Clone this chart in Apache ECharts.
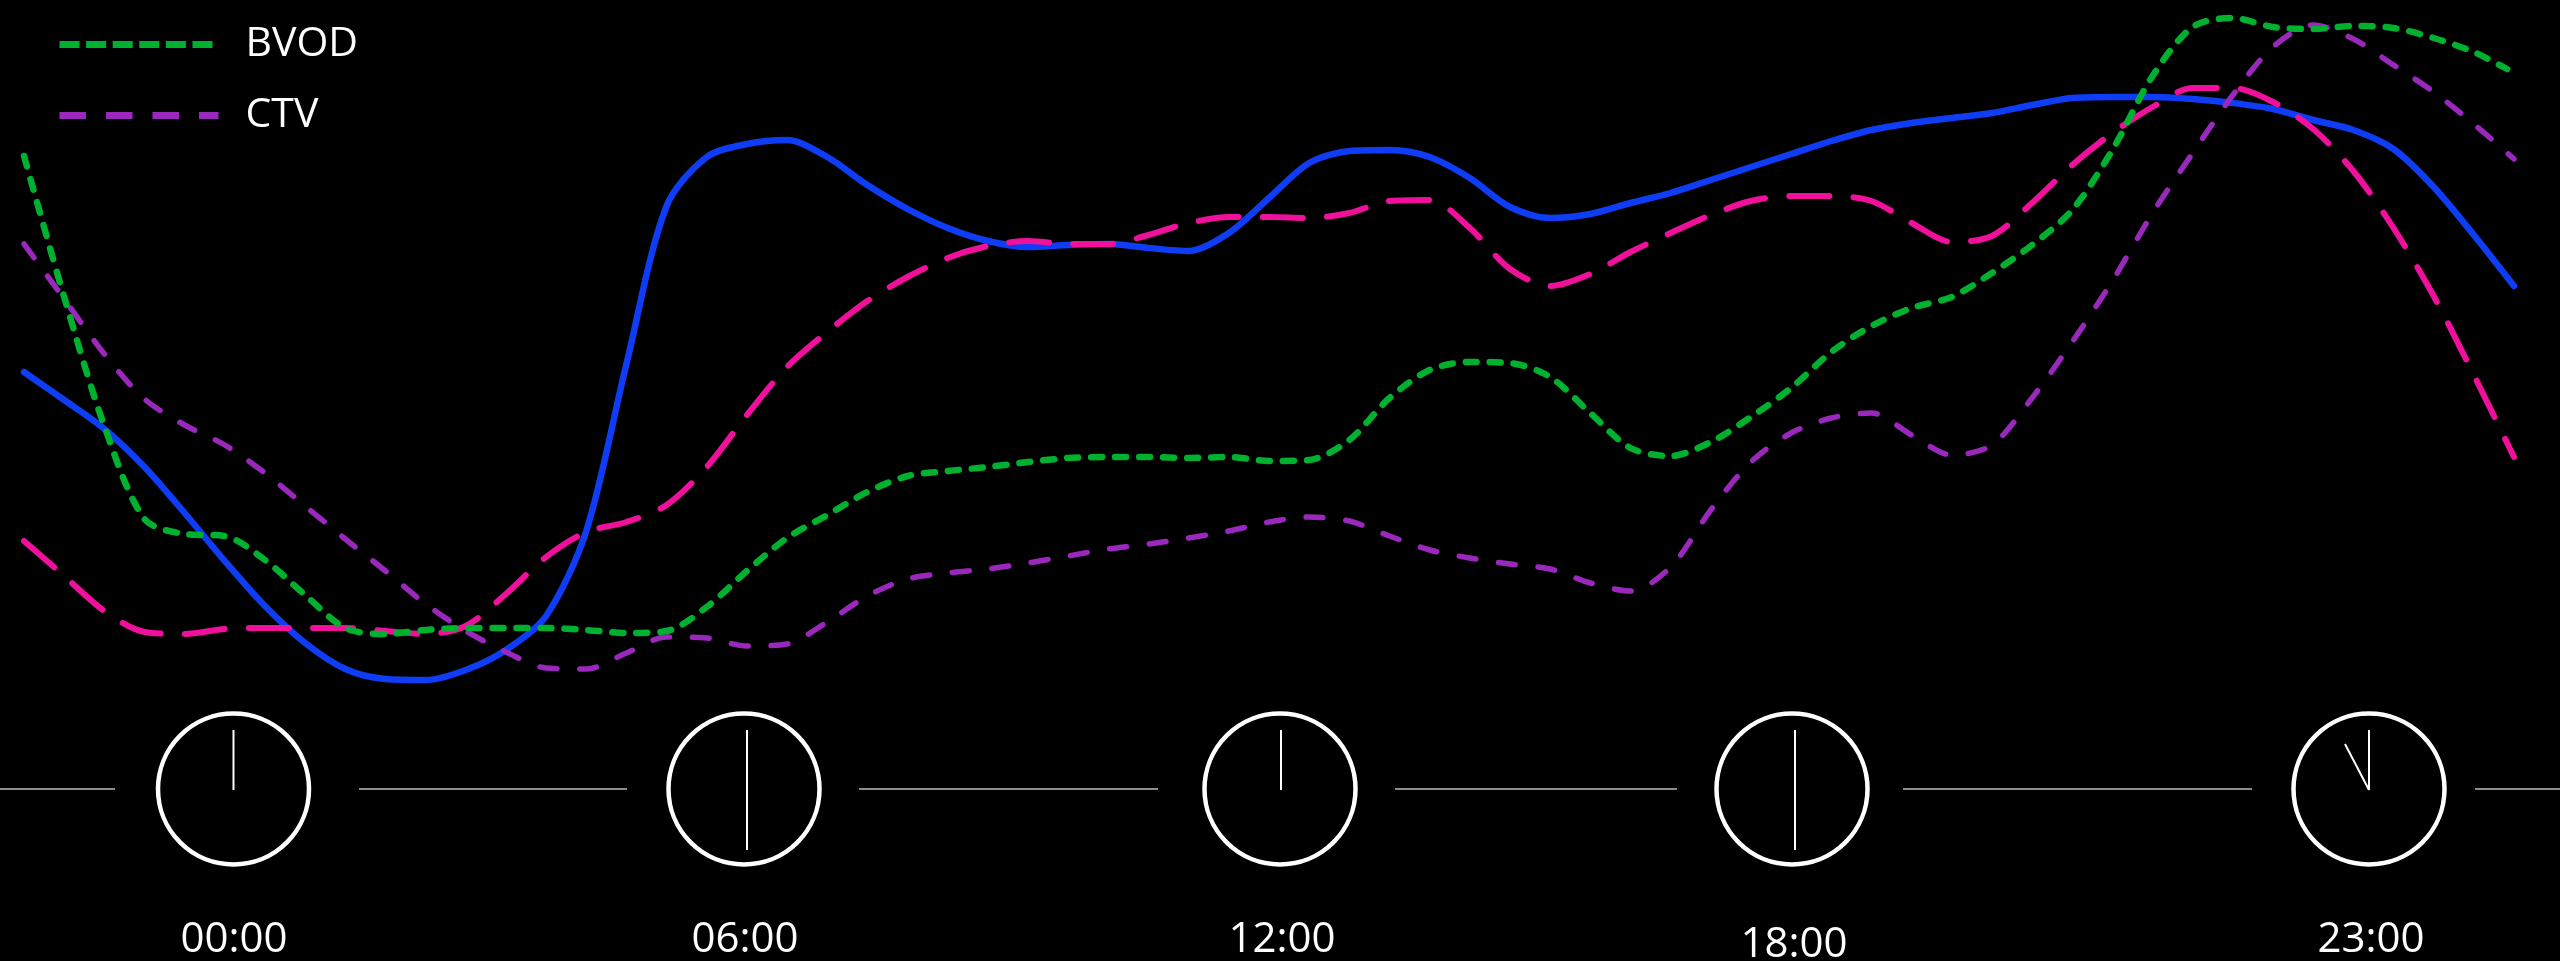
<!DOCTYPE html>
<html>
<head>
<meta charset="utf-8">
<style>html,body{margin:0;height:100%;background:#000}#chart{width:2560px;height:961px}</style>
<script src="https://cdn.jsdelivr.net/npm/echarts@6/dist/echarts.min.js"></script>
</head>
<body>
<div id="chart"></div>
<script>
// Audience index over the day, one reading per sample step.
const blueLine = [328,300,271,233,187,139,94,57,31,21,20,30,50,84,169,336,494,543,556,560,543,515,491,472,459,453,455,456,452,449,467,502,537,549,550,543,522,493,482,486,497,507,520,533,546,559,570,577,582,587,595,602,603,603,601,597,591,580,570,551,513,465,414];
const ctv = [456,401,346,301,275,255,227,194,161,129,96,69,48,32,31,47,63,62,54,56,78,104,121,127,131,137,144,151,156,162,169,178,183,179,164,150,142,136,131,117,109,133,190,238,267,282,287,265,245,255,302,358,419,487,547,605,653,675,661,635,608,576,541];
const pinkLine = [159,124,89,68,66,71,72,72,72,69,66,74,106,143,168,178,195,233,285,333,368,399,423,442,454,459,456,456,465,477,483,483,482,487,499,500,472,431,414,426,448,467,485,499,504,504,499,477,458,464,497,535,567,593,612,612,598,571,529,472,404,325,243];
const bvod = [544,403,274,181,166,164,140,105,72,66,70,72,72,72,70,67,69,93,129,162,185,208,224,229,233,238,242,243,243,242,243,239,240,260,302,330,338,337,323,287,252,244,258,283,312,348,374,392,403,427,455,490,550,624,673,682,673,671,674,672,662,648,631];

// The BVOD trace stops slightly short of the others.
const bvodLastSample = 61.83;

const timeLabels = ['00:00', '06:00', '12:00', '18:00', '23:00'];

// Clock row layout
const clockY = 789;
const clockRadius = 75.5;
const clockX = [233.5, 744, 1280, 1792, 2369];
const handX = [233.5, 747, 1281, 1795, 2369];
const handEndY = [790, 850, 790, 850, 790];
const labelX = [234, 745, 1282, 1794, 2371];
const labelY = [940, 940, 940, 945, 940];
const ruleSpans = [[0, 115], [359, 627], [859, 1158], [1395, 1677], [1903, 2252], [2475, 2560]];

const WHITE = '#ffffff';
const graphics = [];
ruleSpans.forEach(([a, b]) => graphics.push({
  type: 'line', shape: {x1: a, y1: clockY, x2: b, y2: clockY},
  style: {stroke: '#8c8c8c', lineWidth: 2}
}));
clockX.forEach((cx, i) => {
  graphics.push({type: 'circle', shape: {cx, cy: clockY, r: clockRadius}, style: {fill: 'none', stroke: WHITE, lineWidth: 4.5}});
  graphics.push({type: 'line', shape: {x1: handX[i], y1: 730, x2: handX[i], y2: handEndY[i]}, style: {stroke: WHITE, lineWidth: 2}});
  graphics.push({type: 'text', x: labelX[i], y: labelY[i], style: {
    text: timeLabels[i], fill: WHITE, font: '42px "Open Sans"', textAlign: 'center', textVerticalAlign: 'middle'
  }});
});
// Hour hand of the last clock
graphics.push({type: 'line', shape: {x1: 2369, y1: 790, x2: 2345, y2: 744}, style: {stroke: WHITE, lineWidth: 2}});

function trace(name, values, color, width, dash, lastSample) {
  return {
    name, type: 'line', smooth: 0.3, symbol: 'none', silent: true,
    data: values.map((v, i) => [i === values.length - 1 && lastSample ? lastSample : i, v]),
    lineStyle: {color, width, type: dash, cap: 'round', join: 'round'},
    itemStyle: {color}
  };
}

const chart = echarts.init(document.getElementById('chart'));
chart.setOption({
  backgroundColor: '#000000',
  animation: false,
  grid: {left: 24, right: 46, top: 0, height: 700},
  xAxis: {type: 'value', min: 0, max: 62, show: false},
  yAxis: {type: 'value', min: 0, max: 700, show: false},
  legend: {
    orient: 'vertical', left: 56, top: 24, padding: 0,
    itemWidth: 159, itemHeight: 46, itemGap: 30, selectedMode: false,
    textStyle: {color: WHITE, fontFamily: 'Open Sans', fontSize: 41, padding: [0, 0, 2, 22]},
    data: [
      {name: 'BVOD', itemStyle: {opacity: 0}, lineStyle: {width: 7, type: [20, 6.6], cap: 'butt'}},
      {name: 'CTV', itemStyle: {opacity: 0}, lineStyle: {width: 7, type: [26.5, 20], cap: 'butt'}}
    ]
  },
  graphic: graphics,
  series: [
    trace('Series 3', blueLine, '#0f3df5', 6.5, 'solid'),
    trace('CTV', ctv, '#9b28bd', 5.5, [17, 22.8]),
    trace('Series 4', pinkLine, '#f0109b', 6, [40, 24.25]),
    trace('BVOD', bvod, '#00b02f', 6.5, [11, 13], bvodLastSample)
  ]
});
</script>
</body>
</html>
